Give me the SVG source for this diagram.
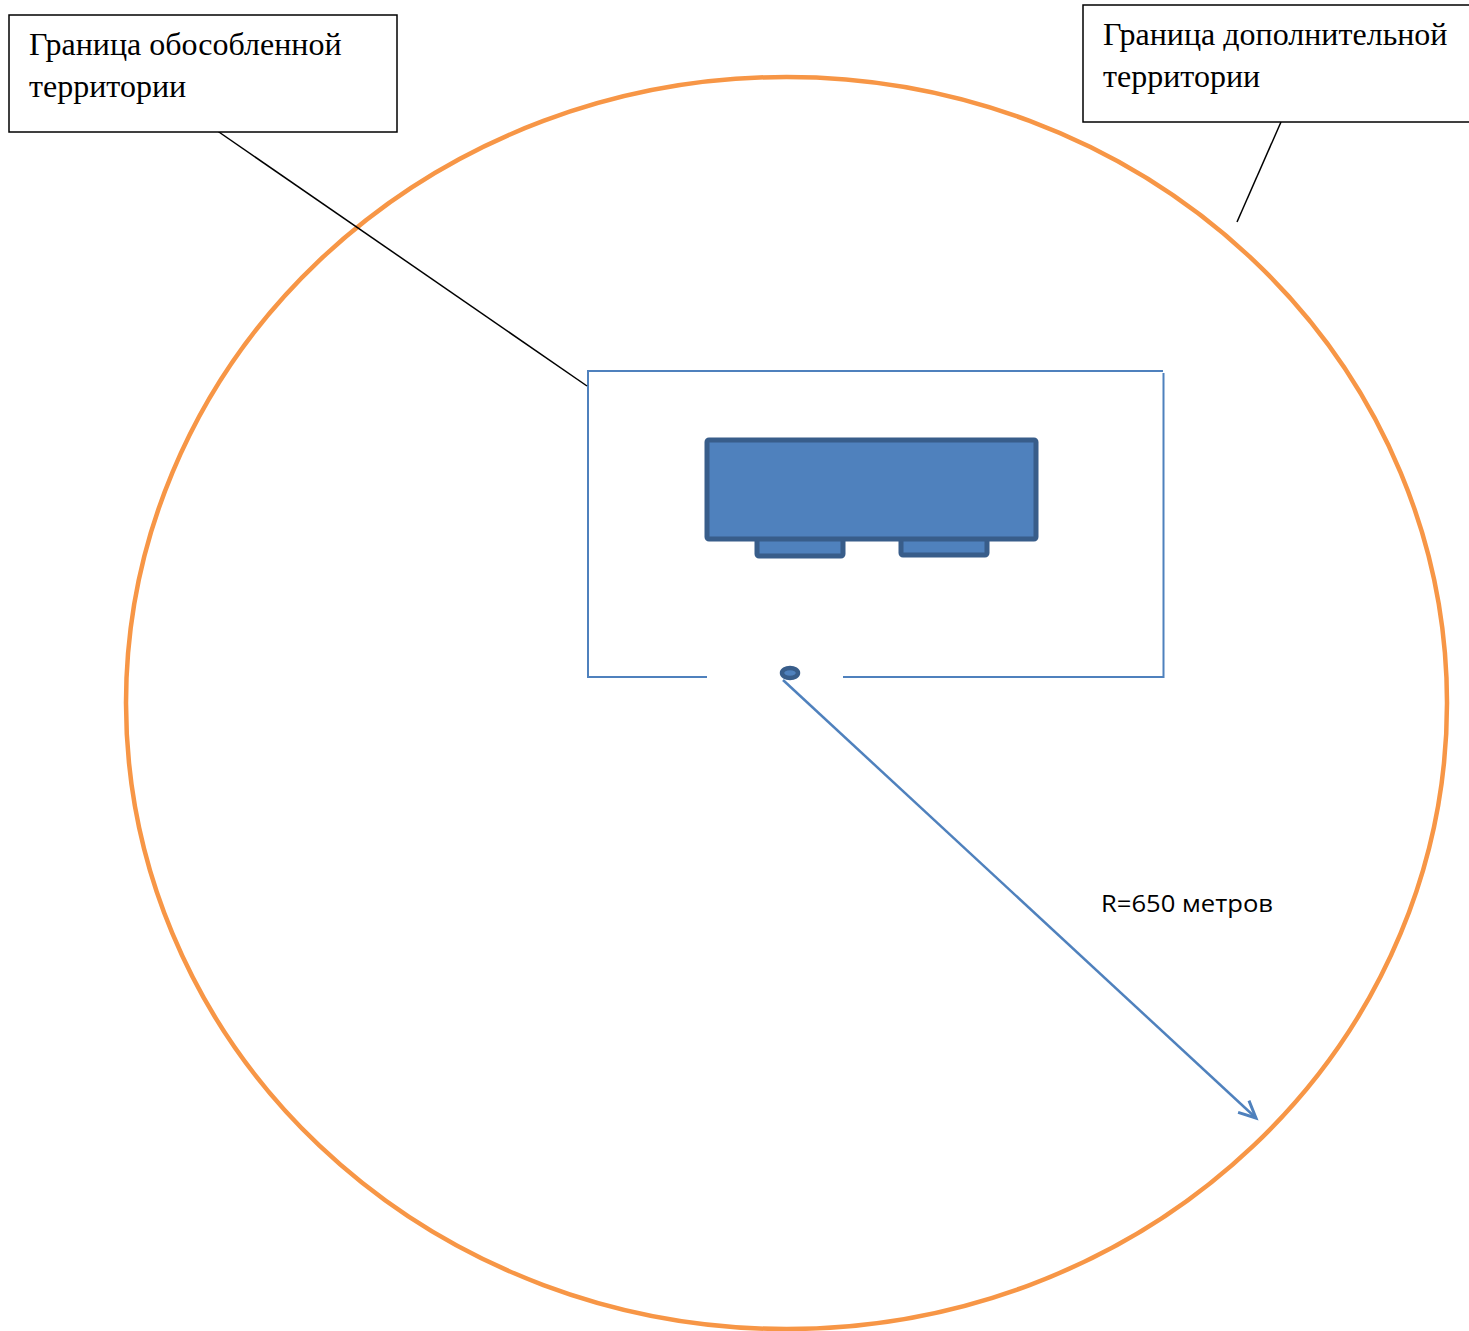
<svg xmlns="http://www.w3.org/2000/svg" width="1469" height="1331" viewBox="0 0 1469 1331">
<style>
.lbl{font-family:"Liberation Serif","Times New Roman",serif;font-size:32px;fill:#000}
.box{fill:#fff;stroke:#000;stroke-width:1.5}
.lead{stroke:#000;stroke-width:1.5;fill:none}
.terr{stroke:#4F81BD;stroke-width:2;fill:none}
.bld{fill:#4F81BD;stroke:#385D8A;stroke-width:5;stroke-linejoin:round}
</style>
<defs>
<marker id="arr" markerWidth="24" markerHeight="24" refX="20" refY="12" orient="auto" markerUnits="userSpaceOnUse" viewBox="0 0 24 24">
<path d="M3,4 L20,12 L3,20" fill="none" stroke="#4F81BD" stroke-width="3"/>
</marker>
</defs>
<rect width="1469" height="1331" fill="#fff"/>
<g id="outer-boundary">
<ellipse cx="786.5" cy="703" rx="660.5" ry="626" fill="none" stroke="#F79646" stroke-width="4.5"/>
</g>
<g id="territory">
<path class="terr" d="M707,677 H588 V371 H1163 M1163.5,373 V677 H843"/>
</g>
<g id="building">
<rect class="bld" x="757" y="537" width="86" height="19" rx="2"/>
<rect class="bld" x="901" y="536" width="86" height="19" rx="2"/>
<rect class="bld" x="707" y="440" width="329" height="99" rx="2"/>
</g>
<g id="point">
<ellipse cx="790" cy="673" rx="8" ry="5" fill="#4F81BD" stroke="#385D8A" stroke-width="4.5"/>
</g>
<g id="connectors">
<line class="lead" x1="216" y1="130" x2="587" y2="386"/>
<line class="lead" x1="1281" y1="122" x2="1237" y2="222"/>
<line x1="783" y1="680" x2="1256" y2="1118" stroke="#4F81BD" stroke-width="2.5" marker-end="url(#arr)"/>
</g>
<g id="label-left">
<rect class="box" x="9" y="15" width="388" height="117"/>
<text class="lbl" x="29" y="55">Граница обособленной</text>
<text class="lbl" x="29" y="97">территории</text>
</g>
<g id="label-right">
<rect class="box" x="1083" y="5" width="400" height="117"/>
<text class="lbl" x="1103" y="45">Граница дополнительной</text>
<text class="lbl" x="1103" y="87">территории</text>
</g>
<g id="radius-label">
<text x="1101" y="912" font-family="'Open Sans','Noto Sans',sans-serif" font-size="23" textLength="172" lengthAdjust="spacingAndGlyphs" fill="#000">R=650 метров</text>
</g>
</svg>
